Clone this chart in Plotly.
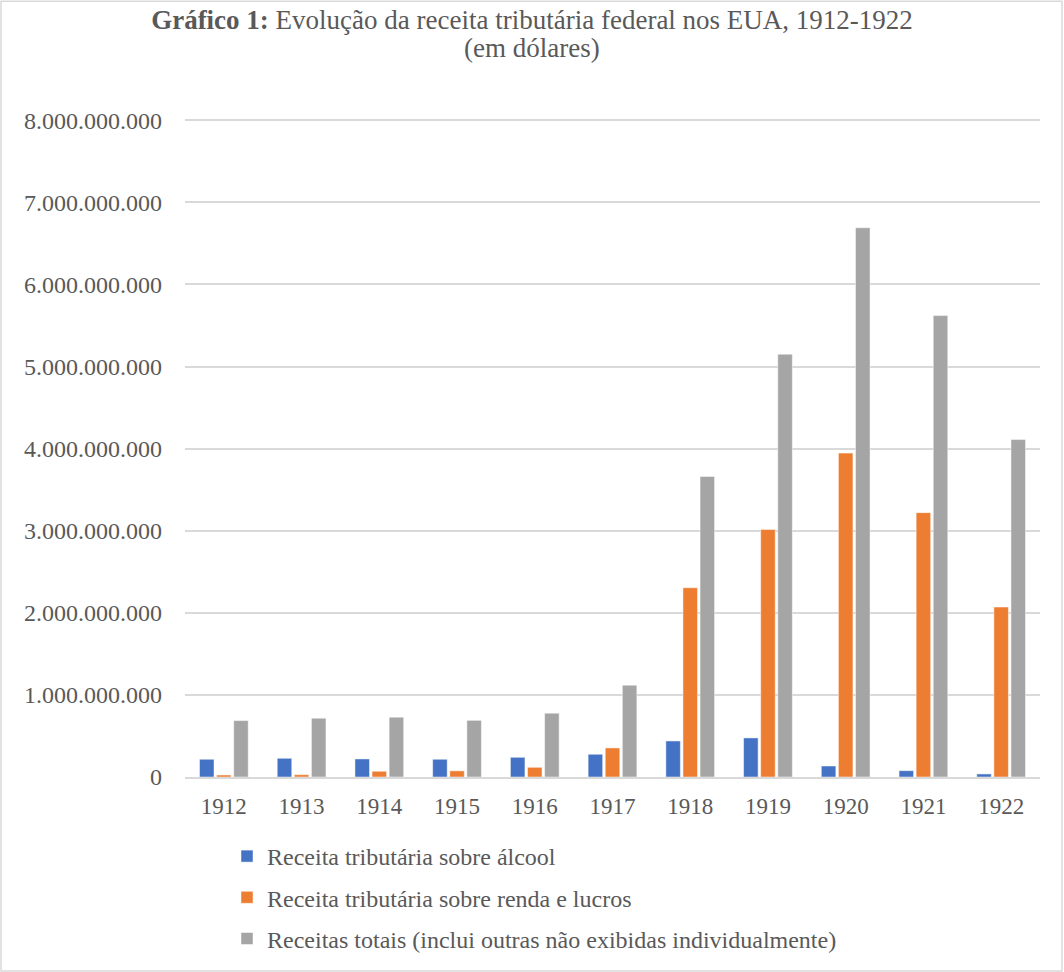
import plotly.graph_objects as go

years = ["1912", "1913", "1914", "1915", "1916", "1917", "1918", "1919", "1920", "1921", "1922"]
alcool = [216e6, 228e6, 220e6, 216e6, 240e6, 277e6, 439e6, 476e6, 134e6, 77e6, 37e6]
renda = [24e6, 28e6, 70e6, 75e6, 118e6, 354e6, 2305e6, 3015e6, 3945e6, 3220e6, 2070e6]
totais = [687e6, 716e6, 728e6, 690e6, 777e6, 1118e6, 3660e6, 5150e6, 6690e6, 5620e6, 4110e6]

names = [
    "Receita tributária sobre álcool",
    "Receita tributária sobre renda e lucros",
    "Receitas totais (inclui outras não exibidas individualmente)",
]
colors = ["#4472C4", "#ED7D31", "#A5A5A5"]
yticks = [0, 1e9, 2e9, 3e9, 4e9, 5e9, 6e9, 7e9, 8e9]
title_line1 = "<b>Gráfico 1:</b> Evolução da receita tributária federal nos EUA, 1912-1922"
title_line2 = "(em dólares)"

FONT = "Liberation Serif, Times New Roman, serif"
TXT = "#595959"

fig = go.Figure()
for i, (nm, vals, c) in enumerate(zip(names, [alcool, renda, totais], colors)):
    fig.add_trace(go.Bar(
        x=years, y=vals, name=nm, marker_color=c,
        marker_line=dict(color="rgba(255,255,255,0.6)", width=0.8),
        legendgroup=f"g{i}",
    ))

# plot area: 8e9 at y=120px, 0 at y=777px; range extended slightly so top gridline shows
ymax = 8.1e9
px_per = (777 - 120) / 8e9
top_px = 777 - ymax * px_per
plot_h = 777 - top_px

fig.update_layout(
    width=1064, height=972,
    autosize=False,
    paper_bgcolor="white", plot_bgcolor="white",
    separators=",.",
    margin=dict(l=185, r=24, t=top_px, b=195),
    barmode="group", bargap=0.34, bargroupgap=0.15,
    font=dict(family=FONT, size=24, color=TXT),
    title=dict(
        text=title_line1,
        x=0.5, xanchor="center", xref="container",
        y=1 - 20 / 972, yanchor="middle", yref="container",
        font=dict(family=FONT, size=27, color=TXT),
    ),
    annotations=[dict(
        text=title_line2, xref="paper", yref="paper",
        x=(532 - 185) / 855, xanchor="center",
        y=1 + (top_px - 48) / plot_h, yanchor="middle",
        showarrow=False, font=dict(family=FONT, size=27, color=TXT),
    )],
    xaxis=dict(
        type="category", showgrid=False, showline=True, linecolor="#d9d9d9", linewidth=1.5,
        ticks="", tickfont=dict(size=23, color=TXT), ticklabelstandoff=8,
    ),
    yaxis=dict(
        range=[0, ymax], tickvals=yticks, tickformat=",d",
        showgrid=True, gridcolor="#d9d9d9", gridwidth=1.5,
        zeroline=False, showline=False, ticks="",
        tickfont=dict(size=24, color=TXT), ticklabelstandoff=22,
    ),
    legend=dict(
        orientation="v", x=(227 - 185) / 855, xref="paper", xanchor="left",
        y=1 - 834 / 972, yref="container", yanchor="top", tracegroupgap=7,
        font=dict(size=24, color=TXT), bgcolor="rgba(0,0,0,0)",
    ),
    shapes=[dict(
        type="rect", xref="paper", yref="paper",
        x0=-184 / 855, x1=1 + 22 / 855,
        y0=-194 / plot_h, y1=1 + (top_px - 1) / plot_h,
        line=dict(color="#d9d9d9", width=1.5), fillcolor="rgba(0,0,0,0)", layer="below",
    )],
)

fig.write_html("out.html")
